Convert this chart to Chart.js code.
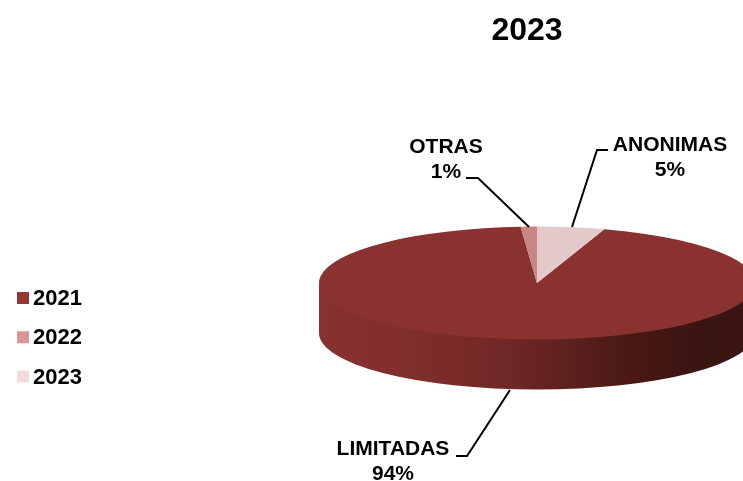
<!DOCTYPE html>
<html>
<head>
<meta charset="utf-8">
<style>
    html, body { margin: 0; padding: 0; background: #fff; overflow: hidden; }
    #chart { display: block; }
</style>
<script src="https://cdn.jsdelivr.net/npm/chart.js@4/dist/chart.umd.min.js"></script>
</head>
<body>
<canvas id="chart" width="755" height="501"></canvas>
<script>
    /*
    ** Data
    */
    var title = "2023";
    var categories = ["2021", "2022", "2023"];
    var sliceNames = ["LIMITADAS", "OTRAS", "ANONIMAS"];
    var values = [93.8, 1.2, 5];
    var sliceColors = ["#8a3230", "#c88583", "#e3c9c9"];
    var legendColors = ["#953735", "#d99694", "#f2dcdb"];

    var SQUASH = 56.5 / 218;
    var DEPTH = 50;
    var FONT = '"Liberation Sans", Arial, sans-serif';

    /*
    ** Callouts: text position and leader line for each slice
    */
    var callouts = [
        { x: 393, y: [455, 480], line: [[456, 456], [467, 456], [510, 390]] },
        { x: 446, y: [153, 178], line: [[466, 178], [478, 178], [529, 227]] },
        { x: 670, y: [151, 176], line: [[608, 150], [597, 150], [572, 227]] }
    ];

    /*
    ** Tilts the pie and draws the wall below it
    */
    var tilt = {
        id: "tilt",
        beforeDatasetsDraw: function (chart) {
            var arc = chart.getDatasetMeta(0).data[0];
            var ctx = chart.ctx;
            var cx = arc.x, cy = arc.y, r = arc.outerRadius;

            var wall = ctx.createLinearGradient(cx - r, 0, cx + r, 0);
            wall.addColorStop(0, "#873130");
            wall.addColorStop(0.18, "#822f2d");
            wall.addColorStop(0.45, "#6e2725");
            wall.addColorStop(0.72, "#491814");
            wall.addColorStop(0.88, "#391512");
            wall.addColorStop(1, "#3a1512");

            ctx.save();
            ctx.fillStyle = wall;
            ctx.beginPath();
            ctx.ellipse(cx, cy - 2, r, r * SQUASH, 0, 0, Math.PI);
            ctx.ellipse(cx, cy + DEPTH, r, r * SQUASH, 0, Math.PI, 0, true);
            ctx.closePath();
            ctx.fill();
            ctx.restore();

            ctx.save();
            ctx.translate(cx, cy);
            ctx.scale(1, SQUASH);
            ctx.translate(-cx, -cy);
        },
        afterDatasetsDraw: function (chart) {
            chart.ctx.restore();
        }
    };

    /*
    ** Title, legend and callouts
    */
    var texts = {
        id: "texts",
        afterDraw: function (chart) {
            var ctx = chart.ctx;
            ctx.save();
            ctx.fillStyle = "#000";
            ctx.textBaseline = "alphabetic";

            ctx.textAlign = "center";
            ctx.font = "bold 32px " + FONT;
            ctx.fillText(title, 527, 40);

            ctx.font = "bold 21px " + FONT;
            callouts.forEach(function (c, i) {
                ctx.fillText(sliceNames[i], c.x, c.y[0]);
                ctx.fillText(Math.round(values[i]) + "%", c.x, c.y[1]);

                ctx.beginPath();
                ctx.moveTo(c.line[0][0], c.line[0][1]);
                ctx.lineTo(c.line[1][0], c.line[1][1]);
                ctx.lineTo(c.line[2][0], c.line[2][1]);
                ctx.lineWidth = 2;
                ctx.strokeStyle = "#000";
                ctx.stroke();
            });

            ctx.textAlign = "left";
            ctx.font = "bold 22px " + FONT;
            categories.forEach(function (name, i) {
                var y = 292 + i * 39.3;
                ctx.fillStyle = legendColors[i];
                ctx.fillRect(17, y, 12, 12);
                ctx.fillStyle = "#000";
                ctx.fillText(name, 33, y + 13);
            });
            ctx.restore();
        }
    };

    new Chart(document.getElementById("chart"), {
        type: "pie",
        data: {
            labels: categories,
            datasets: [{
                data: values,
                backgroundColor: sliceColors,
                borderWidth: 0,
                clip: false
            }]
        },
        options: {
            responsive: false,
            animation: false,
            rotation: 18,
            layout: { padding: { left: 319, top: 65 } },
            plugins: {
                legend: { display: false },
                tooltip: { enabled: false }
            }
        },
        plugins: [tilt, texts]
    });
</script>
</body>
</html>
